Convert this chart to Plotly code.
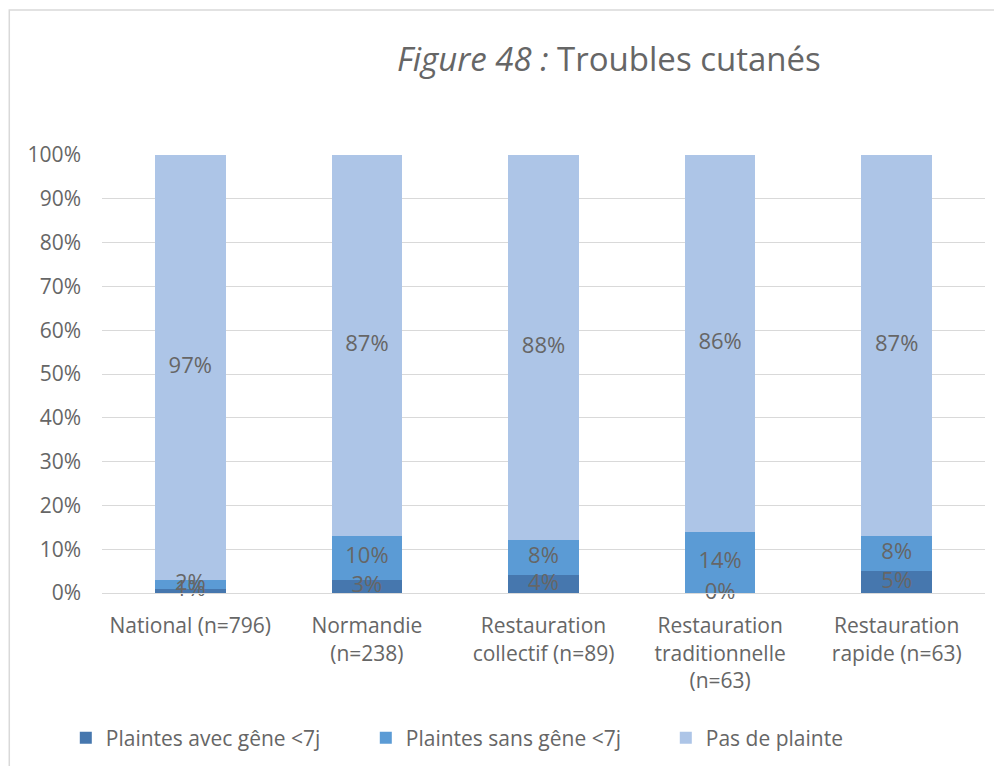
import numpy as np
import plotly.graph_objects as go

# data (percent)
categories = [
    "National (n=796)",
    "Normandie<br>(n=238)",
    "Restauration<br>collectif (n=89)",
    "Restauration<br>traditionnelle<br>(n=63)",
    "Restauration<br>rapide (n=63)",
]
avec_gene = [1, 3, 4, 0, 5]
sans_gene = [2, 10, 8, 14, 8]
pas_plainte = [97, 87, 88, 86, 87]

series = [
    ("Plaintes avec gêne <7j", avec_gene, "#4677AE"),
    ("Plaintes sans gêne <7j", sans_gene, "#5B9BD5"),
    ("Pas de plainte", pas_plainte, "#ADC5E7"),
]

FONT = "'Open Sans', sans-serif"
GRAY = "#666666"

fig = go.Figure()
base = np.zeros(len(categories))
for name, vals, color in series:
    vals = np.array(vals, dtype=float)
    fig.add_trace(go.Bar(
        x=categories, y=vals / 100, name=name,
        marker=dict(color=color, line=dict(width=0)),
        width=0.4,
    ))
    # labels centred in each segment (also shown for 0% segments)
    fig.add_trace(go.Scatter(
        x=categories, y=(base + vals / 2) / 100,
        mode="text", text=[f"{int(v)}%" for v in vals],
        textposition="middle center", cliponaxis=False,
        textfont=dict(size=22, color=GRAY, family=FONT),
        showlegend=False, hoverinfo="skip",
    ))
    base = base + vals

# page body adds an 8px offset, margins compensate
fig.update_layout(
    barmode="stack",
    width=1002, height=766,
    margin=dict(l=94, r=25, t=147, b=181, autoexpand=False),
    paper_bgcolor="white", plot_bgcolor="white",
    font=dict(family=FONT, color=GRAY, size=21),
    showlegend=True,
    legend=dict(
        orientation="h", x=-0.041, y=-0.331, xanchor="left", yanchor="middle",
        font=dict(size=21, color=GRAY), traceorder="normal",
        itemwidth=30, entrywidth=255, entrywidthmode="pixels",
    ),
    annotations=[dict(
        text="<i>Figure 48 :</i> Troubles cutanés",
        xref="paper", yref="paper", x=0.574, y=1.22,
        xanchor="center", yanchor="middle", showarrow=False,
        font=dict(size=33, color=GRAY, family=FONT),
    )],
    shapes=[dict(
        type="rect", xref="paper", yref="paper",
        x0=-0.105, x1=1.017, y0=-0.45, y1=1.331,
        line=dict(color="#D9D9D9", width=1.5), fillcolor="rgba(0,0,0,0)",
        layer="below",
    )],
)

fig.update_yaxes(
    range=[0, 1], tickvals=[i / 10 for i in range(11)], tickformat=".0%",
    showgrid=True, gridcolor="#D9D9D9", gridwidth=1.3,
    zeroline=False, showline=False, ticks="", ticklabelstandoff=20,
    tickfont=dict(size=21, color=GRAY), automargin=False,
)
fig.update_xaxes(
    showline=True, linecolor="#D9D9D9", linewidth=1.3, ticks="",
    tickfont=dict(size=21, color=GRAY), ticklabelstandoff=14, automargin=False,
)

fig.write_html("out.html")
